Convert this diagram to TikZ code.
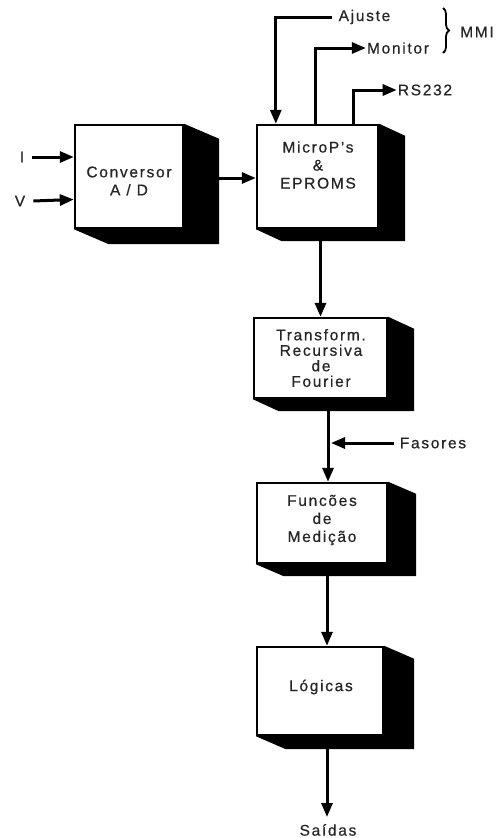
\documentclass[tikz,border=0pt]{standalone}
\usepackage{fontspec}
\setmainfont{Liberation Sans}[LetterSpace=11,FakeBold=0.6]
\usetikzlibrary{arrows.meta,decorations.pathreplacing}
\tikzset{
 box/.style={draw=black, line width=2.4pt, fill=white, inner sep=0pt},
 txt/.style={font=\fontsize{15.5}{18}\selectfont, align=center, inner sep=0pt, text=black!85},
 arr/.style={line width=3pt, -{Triangle[length=14pt,width=11pt]}},
}
\newcommand\boxshadow[3]{%
 \fill[black] (#1.north east) -- ++(#2,#3) -- ([shift={(#2,#3)}]#1.south east)
   -- ([shift={(#2,#3)}]#1.south west) -- (#1.south west) -- (#1.south east) -- cycle;}
\begin{document}
\begin{tikzpicture}[x=1pt,y=-1pt]
\useasboundingbox (0,0) rectangle (498,838);
% boxes
\node[box, minimum width=108pt, minimum height=103pt] (conv) at (129,176.5) {};
\node[box, minimum width=121pt, minimum height=103pt] (micro) at (317.5,176.5) {};
\node[box, minimum width=133pt, minimum height=80pt] (trans) at (320.5,358) {};
\node[box, minimum width=130pt, minimum height=80pt] (func) at (322,523) {};
\node[box, minimum width=126pt, minimum height=88pt] (log) at (320,691) {};
\boxshadow{conv}{35}{15}
\boxshadow{micro}{26}{12}
\boxshadow{trans}{26}{12}
\boxshadow{func}{28}{12}
\boxshadow{log}{30}{13}
% box texts
\node[txt] (convt) at (129,181) {Conversor\\A / D};
\node[txt] (microt) at (318,165) {MicroP's\\\&\\EPROMS};
\node[txt, font=\fontsize{15.5}{15.5}\selectfont] (transt) at (321,358) {Transform.\\Recursiva\\de\\Fourier};
\node[txt] (funct) at (322,520) {Funcões\\de\\Medição};
\node[txt] (logt) at (321,687) {Lógicas};
% labels
\node[txt] (lI) at (22,157) {I};
\node[txt] (lV) at (20,201) {V};
\node[txt] (ajuste) at (364.5,17) {Ajuste};
\node[txt] (monitor) at (398,48) {Monitor};
\node[txt] (rs) at (425,90) {RS232};
\node[txt] (fas) at (433,443) {Fasores};
\node[txt] (mmi) at (477,32) {MMI};
\node[txt] (said) at (328,830) {Saídas};
% connectors
\draw[arr] ([xshift=8pt]lI.east) -- (lI -| conv.west);
\draw[arr] ([xshift=8pt]lV.east) -- ([yshift=1.5pt]lV -| conv.west);
\draw[arr] ([xshift=35pt,yshift=-1.5pt]conv.east) -- ([yshift=-1.5pt]micro.west |- conv.east);
\draw[arr] ([xshift=-7pt]ajuste.west) -| ([xshift=20pt]micro.north west);
\draw[arr] ([xshift=60pt]micro.north west) |- ([xshift=-1pt]monitor.west);
\draw[arr] ([xshift=98pt]micro.north west) |- ([xshift=-1pt]rs.west);
\draw[line width=1.8pt, decorate, decoration={brace, amplitude=6pt}] (443,8) -- (443,53);
\coordinate (fz) at (331,443);
\draw[arr] ([xshift=-6pt]fas.west) -- (fz);
\draw[arr] (trans.north |- micro.south) -- (trans.north);
\draw[arr] ([xshift=7.5pt]trans.south) -- ([xshift=7.5pt]trans.south |- func.north);
\draw[arr] ([xshift=5pt]func.south) -- ([xshift=5pt]func.south |- log.north);
\draw[arr] ([xshift=7pt]log.south) -- ([xshift=7pt,yshift=7pt]log.south |- said.north);
\end{tikzpicture}
\end{document}
